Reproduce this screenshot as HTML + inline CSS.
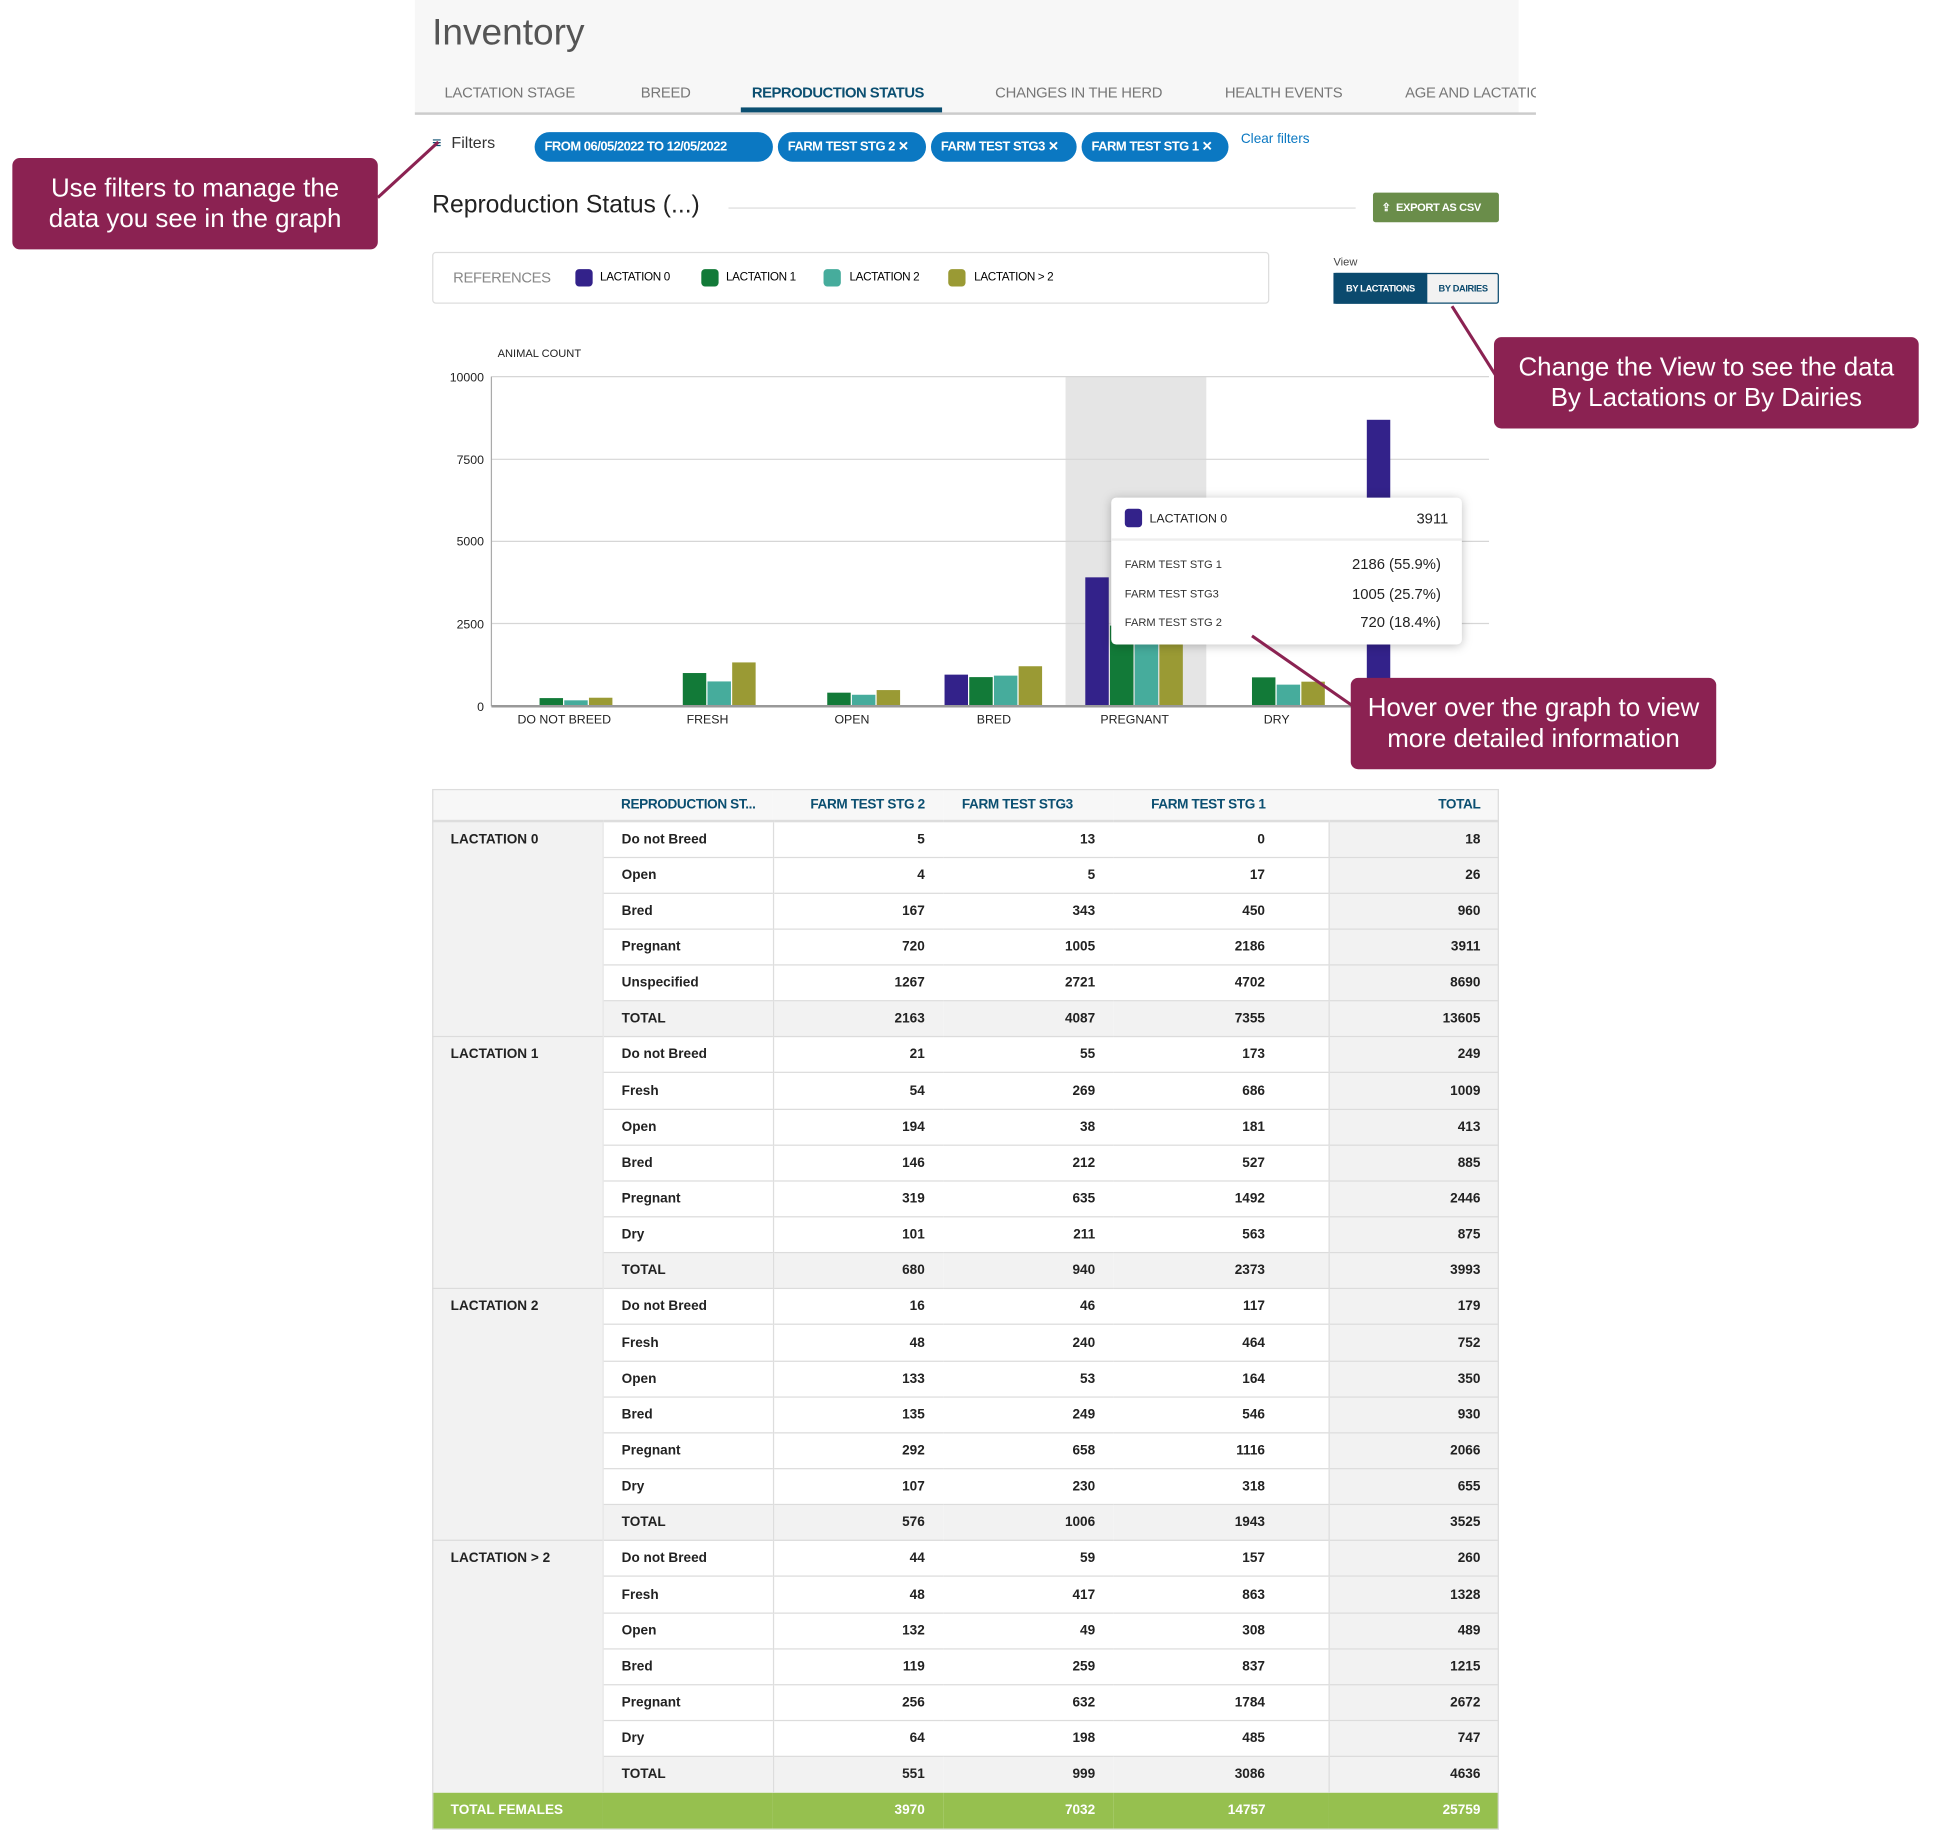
<!DOCTYPE html>
<html><head><meta charset="utf-8"><style>
*{margin:0;padding:0;box-sizing:border-box}
body{width:1936px;height:1829px;background:#fff;overflow:hidden;font-family:"Liberation Sans Narrow","Liberation Sans",sans-serif}
#w{position:absolute;left:0;top:0;width:1568px;height:1482px;transform:scale(1.234694);transform-origin:0 0}
.a{position:absolute;white-space:nowrap}
.tab{position:absolute;top:68px;font-size:12px;color:#777;white-space:nowrap;letter-spacing:-0.2px}
.chip{position:absolute;top:107px;height:24px;border-radius:12px;background:#0b78c2;color:#fff;font-size:10.5px;font-weight:bold;line-height:24px;padding-left:8px;white-space:nowrap;letter-spacing:-0.4px;overflow:hidden}
.ann{position:absolute;background:#8b2252;color:#fff;font-family:"Liberation Sans",sans-serif;font-size:21px;line-height:25px;text-align:center;border-radius:6px;padding-top:12px}
table{position:absolute;left:350px;top:639px;width:864px;border-collapse:collapse;font-size:11px;font-weight:bold;color:#222;table-layout:fixed}
td{height:29.15px;border-top:1px solid #dcdcdc;padding:0 15px;text-align:right;white-space:nowrap}
td.g{background:#f2f2f2;text-align:left;vertical-align:top;padding-top:8px;border-right:1px solid #e6e6e6}
td.r{text-align:left;border-right:1px solid #ddd}
td.t{background:#f2f2f2;border-left:1px solid #ddd}
tr.tot td{background:#f2f2f2}
th{height:26px;font-size:11px;color:#0b4f71;text-align:right;padding:0 15px;background:#f7f7f7;border-bottom:2px solid #ddd;white-space:nowrap;overflow:hidden;letter-spacing:-0.3px}
tr.f td{background:#96c04f;color:#fff;height:29px;border:none}
</style></head><body><div id="w">
<div class="a" style="left:336px;top:0;width:894px;height:92px;background:#f7f7f7"></div>
<div class="a" style="left:336px;top:91px;width:908px;height:2px;background:#ccc"></div>
<div class="a" style="left:350px;top:10px;font-size:30px;color:#555">Inventory</div>
<div class="tab" style="left:360px">LACTATION STAGE</div>
<div class="tab" style="left:519px">BREED</div>
<div class="tab" style="left:609px;color:#0b4f71;font-weight:bold;letter-spacing:-0.4px">REPRODUCTION STATUS</div>
<div class="tab" style="left:806px">CHANGES IN THE HERD</div>
<div class="tab" style="left:992px">HEALTH EVENTS</div>
<div class="tab" style="left:1138px;width:106px;overflow:hidden">AGE AND LACTATION</div>
<div class="a" style="left:600px;top:87px;width:163px;height:4px;background:#0b4f71"></div>
<div class="a" style="left:350px;top:108px;font-size:13px;color:#0b4f71">≡<span style="color:#333;margin-left:8px">Filters</span></div>
<div class="chip" style="left:433px;width:193px">FROM 06/05/2022 TO 12/05/2022</div>
<div class="chip" style="left:630px;width:120px">FARM TEST STG 2 ✕</div>
<div class="chip" style="left:754px;width:118px">FARM TEST STG3 ✕</div>
<div class="chip" style="left:876px;width:119px">FARM TEST STG 1 ✕</div>
<div class="a" style="left:1005px;top:107px;font-size:11px;color:#0b78c2">Clear filters</div>
<div class="a" style="left:350px;top:155px;font-size:20px;color:#222">Reproduction Status (...)</div>
<div class="a" style="left:590px;top:168px;width:508px;height:1px;background:#ddd"></div>
<div class="a" style="left:1112px;top:156px;width:102px;height:24px;background:#6a8d4a;border-radius:2px;color:#fff;font-size:9px;font-weight:bold;line-height:24px;padding-left:7px;letter-spacing:-0.3px;overflow:hidden">⇪ &nbsp;EXPORT AS CSV</div>
<div class="a" style="left:350px;top:204px;width:678px;height:42px;border:1px solid #ddd;border-radius:3px"></div>
<div class="a" style="left:367px;top:218px;font-size:12px;color:#888;letter-spacing:-0.3px">REFERENCES</div>
<div class="a" style="left:466px;top:218px;width:14px;height:14px;border-radius:3px;background:#33228a"></div><div class="a" style="left:486px;top:219px;font-size:9.5px;letter-spacing:-0.3px">LACTATION 0</div>
<div class="a" style="left:568px;top:218px;width:14px;height:14px;border-radius:3px;background:#127a38"></div><div class="a" style="left:588px;top:219px;font-size:9.5px;letter-spacing:-0.3px">LACTATION 1</div>
<div class="a" style="left:667px;top:218px;width:14px;height:14px;border-radius:3px;background:#46ac9c"></div><div class="a" style="left:688px;top:219px;font-size:9.5px;letter-spacing:-0.3px">LACTATION 2</div>
<div class="a" style="left:768px;top:218px;width:14px;height:14px;border-radius:3px;background:#9a9a34"></div><div class="a" style="left:789px;top:219px;font-size:9.5px;letter-spacing:-0.3px">LACTATION &gt; 2</div>
<div class="a" style="left:1080px;top:207px;font-size:9px;color:#444">View</div>
<div class="a" style="left:1080px;top:221px;width:134px;height:25px;border:1px solid #0b4a6e;border-radius:2px;background:#f2f2f2"></div>
<div class="a" style="left:1080px;top:221px;width:76px;height:25px;background:#0b4a6e;color:#fff;font-size:7.5px;font-weight:bold;line-height:25px;text-align:center;letter-spacing:-0.3px">BY LACTATIONS</div>
<div class="a" style="left:1156px;top:221px;width:58px;height:25px;color:#0b4a6e;font-size:7.5px;font-weight:bold;line-height:25px;text-align:center;letter-spacing:-0.3px">BY DAIRIES</div>
<svg class="a" style="left:0;top:0" width="1568" height="640" font-family="Liberation Sans Narrow, Liberation Sans, sans-serif">
<rect x="863" y="305" width="114" height="267" fill="#e5e5e5"/>
<g stroke="#d6d6d6"><line x1="398" y1="305" x2="1206" y2="305"/><line x1="398" y1="372" x2="1206" y2="372"/><line x1="398" y1="438.5" x2="1206" y2="438.5"/><line x1="398" y1="505" x2="1206" y2="505"/></g>
<g fill="#222" font-size="10" text-anchor="end"><text x="392" y="309">10000</text><text x="392" y="376">7500</text><text x="392" y="442">5000</text><text x="392" y="509">2500</text><text x="392" y="576">0</text></g>
<text x="403" y="289" font-size="9" fill="#222">ANIMAL COUNT</text>
<g>
<rect x="417" y="571.5" width="19" height="0.5" fill="#33228a"/><rect x="437" y="565.4" width="19" height="6.6" fill="#127a38"/><rect x="457" y="567.2" width="19" height="4.8" fill="#46ac9c"/><rect x="477" y="565.1" width="19" height="6.9" fill="#9a9a34"/>
<rect x="553" y="545.1" width="19" height="26.9" fill="#127a38"/><rect x="573" y="551.9" width="19" height="20.1" fill="#46ac9c"/><rect x="593" y="536.5" width="19" height="35.5" fill="#9a9a34"/>
<rect x="650" y="571.3" width="19" height="0.7" fill="#33228a"/><rect x="670" y="561" width="19" height="11" fill="#127a38"/><rect x="690" y="562.7" width="19" height="9.3" fill="#46ac9c"/><rect x="710" y="558.9" width="19" height="13.1" fill="#9a9a34"/>
<rect x="765" y="546.4" width="19" height="25.6" fill="#33228a"/><rect x="785" y="548.4" width="19" height="23.6" fill="#127a38"/><rect x="805" y="547.2" width="19" height="24.8" fill="#46ac9c"/><rect x="825" y="539.6" width="19" height="32.4" fill="#9a9a34"/>
<rect x="879" y="467.6" width="19" height="104.4" fill="#33228a"/><rect x="899" y="506.7" width="19" height="65.3" fill="#127a38"/><rect x="919" y="516.8" width="19" height="55.2" fill="#46ac9c"/><rect x="939" y="500.7" width="19" height="71.3" fill="#9a9a34"/>
<rect x="1014" y="548.6" width="19" height="23.4" fill="#127a38"/><rect x="1034" y="554.5" width="19" height="17.5" fill="#46ac9c"/><rect x="1054" y="552.1" width="19" height="19.9" fill="#9a9a34"/>
<rect x="1107" y="340" width="19" height="232" fill="#33228a"/>
</g>
<line x1="398" y1="305" x2="398" y2="572" stroke="#aaa"/><line x1="398" y1="572" x2="1206" y2="572" stroke="#999" stroke-width="2"/>
<g fill="#222" font-size="10" text-anchor="middle"><text x="457" y="586">DO NOT BREED</text><text x="573" y="586">FRESH</text><text x="690" y="586">OPEN</text><text x="805" y="586">BRED</text><text x="919" y="586">PREGNANT</text><text x="1034" y="586">DRY</text></g>
<rect x="900" y="403" width="284" height="119" rx="4" fill="#fff" style="filter:drop-shadow(0 1px 4px rgba(0,0,0,.25))"/>
<line x1="900" y1="437" x2="1184" y2="437" stroke="#eee" stroke-width="2"/>
<rect x="911" y="412" width="14" height="15" rx="3" fill="#33228a"/>
<text x="931" y="423" font-size="10" fill="#222">LACTATION 0</text><text x="1173" y="424" font-size="12" fill="#222" text-anchor="end">3911</text>
<g font-size="9" fill="#333"><text x="911" y="460">FARM TEST STG 1</text><text x="911" y="484">FARM TEST STG3</text><text x="911" y="507">FARM TEST STG 2</text></g>
<g font-size="12" fill="#222" text-anchor="end"><text x="1167" y="461">2186 (55.9%)</text><text x="1167" y="485">1005 (25.7%)</text><text x="1167" y="508">720 (18.4%)</text></g>
<g stroke="#8b2252" stroke-width="2.5"><line x1="306" y1="160" x2="355" y2="115"/><line x1="1176" y1="248" x2="1212" y2="305"/><line x1="1014" y1="515" x2="1096" y2="572"/></g>
</svg>
<div class="ann" style="left:10px;top:128px;width:296px;height:74px">Use filters to manage the<br>data you see in the graph</div>
<div class="ann" style="left:1210px;top:273px;width:344px;height:74px">Change the View to see the data<br>By Lactations or By Dairies</div>
<div class="ann" style="left:1094px;top:549px;width:296px;height:74px">Hover over the graph to view<br>more detailed information</div>
<table>
<colgroup><col style="width:138px"><col style="width:138px"><col style="width:138px"><col style="width:138px"><col style="width:174px"><col style="width:138px"></colgroup>
<tr><th></th><th style="text-align:left">REPRODUCTION ST...</th><th>FARM TEST STG 2</th><th style="text-align:left">FARM TEST STG3</th><th style="padding-right:51px">FARM TEST STG 1</th><th>TOTAL</th></tr>
<tr><td class="g" rowspan="6">LACTATION 0</td><td class="r">Do not Breed</td><td>5</td><td>13</td><td style="padding-right:51px">0</td><td class="t">18</td></tr>
<tr><td class="r">Open</td><td>4</td><td>5</td><td style="padding-right:51px">17</td><td class="t">26</td></tr>
<tr><td class="r">Bred</td><td>167</td><td>343</td><td style="padding-right:51px">450</td><td class="t">960</td></tr>
<tr><td class="r">Pregnant</td><td>720</td><td>1005</td><td style="padding-right:51px">2186</td><td class="t">3911</td></tr>
<tr><td class="r">Unspecified</td><td>1267</td><td>2721</td><td style="padding-right:51px">4702</td><td class="t">8690</td></tr>
<tr class="tot"><td class="r">TOTAL</td><td>2163</td><td>4087</td><td style="padding-right:51px">7355</td><td class="t">13605</td></tr>
<tr><td class="g" rowspan="7">LACTATION 1</td><td class="r">Do not Breed</td><td>21</td><td>55</td><td style="padding-right:51px">173</td><td class="t">249</td></tr>
<tr><td class="r">Fresh</td><td>54</td><td>269</td><td style="padding-right:51px">686</td><td class="t">1009</td></tr>
<tr><td class="r">Open</td><td>194</td><td>38</td><td style="padding-right:51px">181</td><td class="t">413</td></tr>
<tr><td class="r">Bred</td><td>146</td><td>212</td><td style="padding-right:51px">527</td><td class="t">885</td></tr>
<tr><td class="r">Pregnant</td><td>319</td><td>635</td><td style="padding-right:51px">1492</td><td class="t">2446</td></tr>
<tr><td class="r">Dry</td><td>101</td><td>211</td><td style="padding-right:51px">563</td><td class="t">875</td></tr>
<tr class="tot"><td class="r">TOTAL</td><td>680</td><td>940</td><td style="padding-right:51px">2373</td><td class="t">3993</td></tr>
<tr><td class="g" rowspan="7">LACTATION 2</td><td class="r">Do not Breed</td><td>16</td><td>46</td><td style="padding-right:51px">117</td><td class="t">179</td></tr>
<tr><td class="r">Fresh</td><td>48</td><td>240</td><td style="padding-right:51px">464</td><td class="t">752</td></tr>
<tr><td class="r">Open</td><td>133</td><td>53</td><td style="padding-right:51px">164</td><td class="t">350</td></tr>
<tr><td class="r">Bred</td><td>135</td><td>249</td><td style="padding-right:51px">546</td><td class="t">930</td></tr>
<tr><td class="r">Pregnant</td><td>292</td><td>658</td><td style="padding-right:51px">1116</td><td class="t">2066</td></tr>
<tr><td class="r">Dry</td><td>107</td><td>230</td><td style="padding-right:51px">318</td><td class="t">655</td></tr>
<tr class="tot"><td class="r">TOTAL</td><td>576</td><td>1006</td><td style="padding-right:51px">1943</td><td class="t">3525</td></tr>
<tr><td class="g" rowspan="7">LACTATION &gt; 2</td><td class="r">Do not Breed</td><td>44</td><td>59</td><td style="padding-right:51px">157</td><td class="t">260</td></tr>
<tr><td class="r">Fresh</td><td>48</td><td>417</td><td style="padding-right:51px">863</td><td class="t">1328</td></tr>
<tr><td class="r">Open</td><td>132</td><td>49</td><td style="padding-right:51px">308</td><td class="t">489</td></tr>
<tr><td class="r">Bred</td><td>119</td><td>259</td><td style="padding-right:51px">837</td><td class="t">1215</td></tr>
<tr><td class="r">Pregnant</td><td>256</td><td>632</td><td style="padding-right:51px">1784</td><td class="t">2672</td></tr>
<tr><td class="r">Dry</td><td>64</td><td>198</td><td style="padding-right:51px">485</td><td class="t">747</td></tr>
<tr class="tot"><td class="r">TOTAL</td><td>551</td><td>999</td><td style="padding-right:51px">3086</td><td class="t">4636</td></tr>
<tr class="f"><td style="text-align:left">TOTAL FEMALES</td><td></td><td>3970</td><td>7032</td><td style="padding-right:51px">14757</td><td>25759</td></tr>
</table>
<div class="a" style="left:350px;top:639px;width:864px;height:843px;border:1px solid #ddd;pointer-events:none"></div>
</div></body></html>
